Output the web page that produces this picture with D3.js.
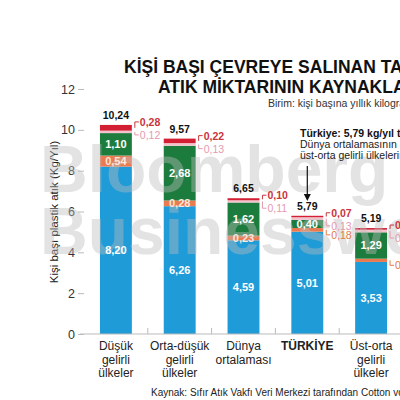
<!DOCTYPE html>
<html><head><meta charset="utf-8">
<script src="https://cdn.jsdelivr.net/npm/d3@7"></script>
<style>
html,body{margin:0;padding:0;background:#fff;overflow:hidden;}
svg{display:block;font-family:"Liberation Sans",Arial,sans-serif;}
</style></head>
<body><svg id="c" width="400" height="400"></svg>
<script>
const categories = ["Düşük gelirli ülkeler","Orta-düşük gelirli ülkeler","Dünya ortalaması","TÜRKİYE","Üst-orta gelirli ülkeler"];
const categoryLines = [["Düşük","gelirli","ülkeler"],["Orta-düşük","gelirli","ülkeler"],["Dünya","ortalaması"],["TÜRKİYE"],["Üst-orta","gelirli","ülkeler"]];
const blueValues   = [8.20, 6.26, 4.59, 5.01, 3.53];
const orangeValues = [0.54, 0.28, 0.23, 0.18, 0.16];
const greenValues  = [1.10, 2.68, 1.62, 0.40, 1.29];
const pinkValues   = [0.12, 0.13, 0.11, 0.13, 0.13];
const redValues    = [0.28, 0.22, 0.10, 0.07, 0.08];
const totals       = [10.24, 9.57, 6.65, 5.79, 5.19];
const yTicks = [0, 2, 4, 6, 8, 10, 12];
const seriesKeys = ["blue","orange","green","pink","red"];
const seriesValues = {blue: blueValues, orange: orangeValues, green: greenValues, pink: pinkValues, red: redValues};
const colors = {blue:"#1f9bd8", orange:"#ea7a4f", green:"#1c7c3e", pink:"#f3c3cd", red:"#d21f33"};
const labelColors = {red:"#c9343d", pink:"#e59aae", orange:"#e27a4a"};

const fmt = v => v.toFixed(2).replace(".", ",");
const svg = d3.select("#c");

const x = d3.scaleBand().domain(categories).range([84, 403]).paddingInner(0.5).paddingOuter(0.25);
const y = d3.scaleLinear().domain([0, 12]).range([334, 89]);

const table = categories.map((c, i) => {
  const row = {cat: c};
  seriesKeys.forEach(k => row[k] = seriesValues[k][i]);
  return row;
});
const stack = d3.stack().keys(seriesKeys)(table);

// title
svg.append("text").attr("x", 124).attr("y", 73).attr("font-size", 17.5).attr("font-weight", 700)
  .attr("fill", "#111").text("KİŞİ BAŞI ÇEVREYE SALINAN TAHMİNİ PLASTİK");
svg.append("text").attr("x", 158).attr("y", 93).attr("font-size", 17.5).attr("font-weight", 700)
  .attr("fill", "#111").text("ATIK MİKTARININ KAYNAKLARI");
svg.append("text").attr("x", 268).attr("y", 107).attr("font-size", 10.5).attr("fill", "#333")
  .text("Birim: kişi başına yıllık kilogram");

// y axis
const yAxis = svg.append("g").attr("transform", "translate(84,0)")
  .call(d3.axisLeft(y).tickValues(yTicks).tickSize(6).tickPadding(3).tickFormat(d => d));
yAxis.select(".domain").remove();
yAxis.selectAll("line").attr("stroke", "#bbb");
yAxis.selectAll("text").attr("font-size", 12.5).attr("fill", "#333").attr("font-family", "Liberation Sans, Arial, sans-serif");

svg.append("text").attr("transform", "translate(58,212) rotate(-90)").attr("text-anchor", "middle")
  .attr("font-size", 11.5).attr("fill", "#222").text("Kişi başı plastik atık (Kg/Yıl)");

// bars
const g = svg.append("g");
stack.forEach(layer => {
  g.selectAll(null).data(layer).enter().append("rect")
    .attr("x", d => x(d.data.cat))
    .attr("width", x.bandwidth())
    .attr("y", d => y(d[1]))
    .attr("height", d => y(d[0]) - y(d[1]))
    .attr("fill", colors[layer.key]);
});

// baseline and category separators
svg.append("line").attr("x1", 80).attr("x2", 400).attr("y1", 334).attr("y2", 334).attr("stroke", "#bbb");
categories.slice(1).forEach(c => {
  const sx = x(c) - (x.step() - x.bandwidth()) / 2;
  svg.append("line").attr("x1", sx).attr("x2", sx).attr("y1", 334).attr("y2", 328).attr("stroke", "#bbb");
});

// watermark
const wm = svg.append("g").attr("fill", "#bdbdbd").attr("opacity", 0.42)
  .attr("font-weight", 700).attr("font-size", 66).attr("font-family", "Liberation Sans, Arial, sans-serif");
wm.append("text").attr("x", 40).attr("y", 192).text("Bloomberg");
wm.append("text").attr("x", 40).attr("y", 254).text("Businessweek");

// inside labels
const inside = [
  {key:"blue", vals: blueValues, show: [true,true,true,true,true]},
  {key:"orange", vals: orangeValues, show: [true,true,true,false,false]},
  {key:"green", vals: greenValues, show: [true,true,true,true,true]}
];
inside.forEach(s => {
  const layer = stack.find(l => l.key === s.key);
  layer.forEach((d, i) => {
    if (!s.show[i]) return;
    svg.append("text").attr("x", x(d.data.cat) + x.bandwidth() / 2)
      .attr("y", (y(d[0]) + y(d[1])) / 2 + 4).attr("text-anchor", "middle")
      .attr("font-size", 11).attr("font-weight", 700)
      .attr("fill", s.key === "orange" ? "#fde6da" : "#fff")
      .text(fmt(s.vals[i]));
  });
});

// totals
categories.forEach((c, i) => {
  svg.append("text").attr("x", x(c) + x.bandwidth() / 2).attr("y", y(totals[i]) - 6)
    .attr("text-anchor", "middle").attr("font-size", 10.5).attr("font-weight", 700).attr("fill", "#111")
    .text(fmt(totals[i]));
});

// outside labels with brackets
const redLayer = stack.find(l => l.key === "red");
const pinkLayer = stack.find(l => l.key === "pink");
const orangeLayer = stack.find(l => l.key === "orange");
categories.forEach((c, i) => {
  const bx = x(c) + x.bandwidth() + 3;
  const topY = y(redLayer[i][1]);
  const redMid = (y(redLayer[i][0]) + y(redLayer[i][1])) / 2;
  const pinkMid = (y(pinkLayer[i][0]) + y(pinkLayer[i][1])) / 2;
  const redLabY = topY - 3;
  const pinkLabY = topY + 10;
  svg.append("path").attr("d", `M${bx},${redMid} V${redLabY} H${bx + 4}`).attr("fill", "none").attr("stroke", labelColors.red).attr("stroke-width", 1);
  svg.append("path").attr("d", `M${bx},${pinkMid} V${pinkLabY} H${bx + 4}`).attr("fill", "none").attr("stroke", labelColors.pink).attr("stroke-width", 1);
  svg.append("text").attr("x", bx + 5).attr("y", redLabY + 4).attr("font-size", 10.5).attr("font-weight", 700)
    .attr("fill", labelColors.red).text(fmt(redValues[i]));
  svg.append("text").attr("x", bx + 5).attr("y", pinkLabY + 4).attr("font-size", 10.5)
    .attr("fill", labelColors.pink).text(fmt(pinkValues[i]));
  if (i >= 3) {
    const oMid = (y(orangeLayer[i][0]) + y(orangeLayer[i][1])) / 2;
    const oLabY = oMid + 5;
    svg.append("path").attr("d", `M${bx},${oMid} V${oLabY} H${bx + 4}`).attr("fill", "none").attr("stroke", labelColors.orange).attr("stroke-width", 1);
    svg.append("text").attr("x", bx + 5).attr("y", oLabY + 4).attr("font-size", 10.5)
      .attr("fill", labelColors.orange).text(fmt(orangeValues[i]));
  }
});

// x labels
categories.forEach((c, i) => {
  const t = svg.append("text").attr("text-anchor", "middle").attr("font-size", 12).attr("fill", "#222")
    .attr("font-weight", c === "TÜRKİYE" ? 700 : 400);
  categoryLines[i].forEach((ln, j) => {
    t.append("tspan").attr("x", x(c) + x.bandwidth() / 2).attr("y", 350 + j * 13.5).text(ln);
  });
});

// Türkiye annotation
const tx = x("TÜRKİYE") + x.bandwidth() / 2;
svg.append("text").attr("x", 300).attr("y", 137).attr("font-size", 10.5).attr("font-weight", 700).attr("fill", "#111")
  .text("Türkiye: 5,79 kg/yıl toplam");
svg.append("text").attr("x", 300).attr("y", 148).attr("font-size", 10.5).attr("fill", "#222")
  .text("Dünya ortalamasının altında,");
svg.append("text").attr("x", 300).attr("y", 159).attr("font-size", 10.5).attr("fill", "#222")
  .text("üst-orta gelirli ülkelerin üstünde");
svg.append("line").attr("x1", tx).attr("x2", tx).attr("y1", 166).attr("y2", 196).attr("stroke", "#111").attr("stroke-width", 1.2);
svg.append("path").attr("d", `M${tx - 3.5},${194} L${tx + 3.5},${194} L${tx},${201} Z`).attr("fill", "#111");

// source
svg.append("text").attr("x", 151).attr("y", 396).attr("font-size", 10).attr("fill", "#222")
  .text("Kaynak: Sıfır Atık Vakfı Veri Merkezi tarafından Cotton vd. (2024) verileri");
</script></body></html>
